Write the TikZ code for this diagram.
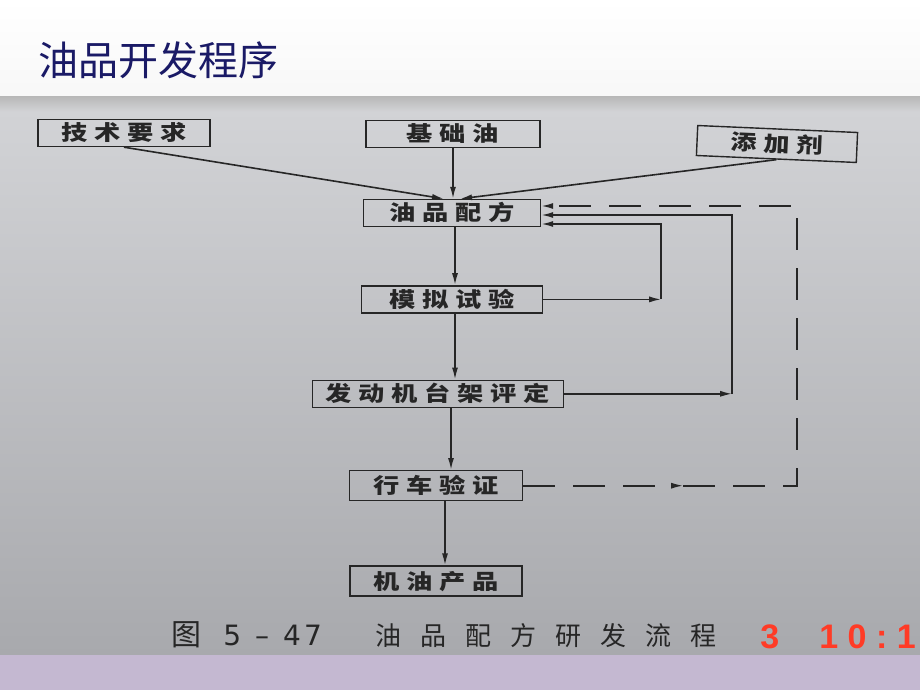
\documentclass[tikz,border=0pt]{standalone}
\usepackage{xcolor}
\usepackage{fontspec}
\setmainfont{Liberation Serif}
\newfontfamily\cjk{Noto Sans CJK SC}
\newfontfamily\cjkbox[LetterSpace=32, FakeStretch=1.25]{Noto Sans CJK SC}
\newfontfamily\cjkcap[LetterSpace=73]{Noto Sans CJK SC}
\newfontfamily\capdigits{DejaVu Sans}
\newfontfamily\clockfont[LetterSpace=28]{Liberation Sans}
\usepackage{tikz}
\usetikzlibrary{arrows.meta, positioning}

\definecolor{titleblue}{HTML}{1A1A66}
\definecolor{inkgray}{HTML}{262626}
\definecolor{paperlight}{HTML}{D3D4D7}
\definecolor{paperdark}{HTML}{A8A9AD}
\definecolor{bandlilac}{HTML}{C4B8D1}
\definecolor{clockred}{HTML}{FF3B26}

\begin{document}
\begin{tikzpicture}[
    x=0.5pt, y=-0.5pt,
    heading/.style={inner sep=0pt, text=titleblue, font=\cjk\fontsize{20}{24}\selectfont},
    flowbox/.style={rectangle, draw=inkgray, line width=0.7pt, minimum height=13.5pt, inner xsep=2pt, inner ysep=1pt, text height=9.2pt, text depth=1.3pt, text=inkgray, font=\cjkbox\bfseries\fontsize{10.5}{12}\selectfont},
    arrow/.style={-{Latex[length=6pt,width=3pt]}, line width=0.8pt, inkgray},
    dasharrow/.style={arrow, dash pattern=on 16pt off 9pt}
]

% Background: slide, photographed page, bottom band
\fill[top color=white, bottom color=gray!6] (0,0) rectangle (920,97);
\fill[top color=paperlight, bottom color=paperdark] (0,97) rectangle (920,655);
\fill[top color=gray!55, bottom color=paperlight] (0,97) rectangle (920,112);
\fill[bandlilac] (0,655) rectangle (920,690);
\useasboundingbox (0,0) rectangle (920,690);

% Title
\node[heading, anchor=west] (title) at (38,60) {油品开发程序};

% Input nodes
\node[flowbox, minimum width=86pt] (techreq) at (124,133) {技术要求};
\node[flowbox, minimum width=87pt] (baseoil) at (453,134) {基础油};
\node[flowbox, minimum width=80pt, minimum height=15pt, rotate=-2.5] (additive) at (777,144) {添加剂};

% Main chain
\node[flowbox, minimum width=88.5pt] (recipe) at (452,213) {油品配方};
\node[flowbox, minimum width=90.5pt, below=29pt of recipe] (simtest) {模拟试验};
\node[flowbox, minimum width=125.5pt, below=33pt of simtest, xshift=-7pt] (enginetest) {发动机台架评定};
\node[flowbox, minimum width=86.5pt, minimum height=15pt, below=31pt of enginetest, xshift=-1pt] (roadtest) {行车验证};
\node[flowbox, minimum width=86pt, minimum height=15pt, below=32pt of roadtest] (product) {机油产品};

% Arrows into the recipe
\draw[arrow] (techreq.south) -- ([xshift=-4pt]recipe.north);
\draw[arrow] (baseoil.south) -- (baseoil.south |- recipe.north);
\draw[arrow] (additive.south) -- ([xshift=4pt]recipe.north);

% Arrows down the chain
\draw[arrow] ([xshift=1.5pt]recipe.south) -- ([xshift=1.5pt]recipe.south |- simtest.north);
\draw[arrow] ([xshift=1.5pt]simtest.south) -- ([xshift=1.5pt]simtest.south |- enginetest.north);
\draw[arrow] ([xshift=6.5pt]enginetest.south) -- ([xshift=6.5pt]enginetest.south |- roadtest.north);
\draw[arrow] ([xshift=4.5pt]roadtest.south) -- ([xshift=4.5pt]roadtest.south |- product.north);

% Feedback loops
\path (simtest.east) ++(59pt,0) coordinate (simturn);
\path (enginetest.east) ++(84pt,0) coordinate (engineturn);
\path (roadtest.east) ++(80pt,0) coordinate (roadmid) ++(57pt,0) coordinate (roadturn);

\draw[arrow] (simtest.east) -- (simturn);
\draw[arrow] (simturn) |- ([yshift=-5.5pt]recipe.east);
\draw[arrow] (enginetest.east) -- (engineturn);
\draw[arrow] (engineturn) |- ([yshift=-1pt]recipe.east);
\draw[dasharrow] (roadtest.east) -- (roadmid);
\draw[dasharrow] (roadmid) -- (roadturn) |- ([yshift=3.5pt]recipe.east);

% Caption and the red stamp
\node[anchor=west, inner sep=0pt, text=inkgray] (caption) at (171,635)
  {{\cjk\fontsize{15}{17}\selectfont 图}\hspace{11pt}{\capdigits\fontsize{14}{16}\selectfont 5\hspace{7pt}–\hspace{7pt}4\hspace{1.5pt}7}\hspace{27pt}{\cjkcap\fontsize{13}{15}\selectfont 油品配方研发流程}};
\node[anchor=west, inner sep=0pt, text=clockred, font=\clockfont\bfseries\fontsize{17}{20}\selectfont] (stamp) at (760,637) {3\hspace{20pt}10:1};

\end{tikzpicture}
\end{document}
